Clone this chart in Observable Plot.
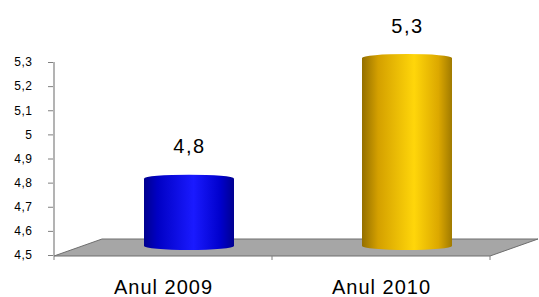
<!DOCTYPE html>
<html><head><meta charset="utf-8">
<script src="https://cdn.jsdelivr.net/npm/d3@7"></script>
<script src="https://cdn.jsdelivr.net/npm/@observablehq/plot@0.6"></script>
<style>
body{margin:0;background:#fff;}
#chart svg{font-family:"Liberation Sans",Arial,sans-serif;}
#chart g[aria-label="text"] text{letter-spacing:1.5px;}
#chart g[aria-label="x-axis tick label"] text{letter-spacing:1px;}
#chart g[aria-label="y-axis tick label"] text{letter-spacing:0.5px;}
</style>
</head><body><div id="chart"></div>
<script>
const categories = ["Anul 2009", "Anul 2010"];
const values = [4.8, 5.3];
const valueLabels = ["4,8", "5,3"];
const gradients = ["url(#gBlue)", "url(#gGold)"];
const yTicks = [4.5, 4.6, 4.7, 4.8, 4.9, 5, 5.1, 5.2, 5.3];
const yTickLabels = ["4,5", "4,6", "4,7", "4,8", "4,9", "5", "5,1", "5,2", "5,3"];

const data = categories.map((c, i) => ({cat: c, value: values[i], label: valueLabels[i], grad: gradients[i]}));

const W = 539, H = 297;
const depthX = 48, depthY = 16;
const barDx = 26, barDy = -8;

const plot = Plot.plot({
  width: W, height: H,
  marginLeft: 53, marginRight: 49, marginTop: 62, marginBottom: 42,
  style: {background: "transparent", color: "#000", fontFamily: "'Liberation Sans', Arial, sans-serif"},
  x: {domain: categories, padding: 0, label: null},
  y: {domain: [4.5, 5.3], label: null},
  color: {type: "identity"},
  marks: [
    Plot.axisY({ticks: yTicks, tickFormat: d => yTickLabels[yTicks.findIndex(t => Math.abs(t - d) < 1e-9)],
      tickSize: 5, tickPadding: 16, fontSize: 12, stroke: "#808080", label: null}),
    Plot.axisX({tickSize: 0, tickPadding: 24, fontSize: 20, label: null}),
    Plot.barY(data, {x: "cat", y1: 4.5, y2: "value", fill: "grad",
      insetLeft: 64, insetRight: 64, insetBottom: -3, rx: 46, ry: 4, dx: barDx, dy: barDy}),
    Plot.text(data, {x: "cat", y: "value", text: "label", dx: barDx, dy: barDy - 22,
      lineAnchor: "bottom", fontSize: 20, fill: "#000"})
  ]
});

const svg = d3.select(plot);
const defs = svg.insert("defs", ":first-child");
function grad(id, stops) {
  const g = defs.append("linearGradient").attr("id", id).attr("x1", "0%").attr("x2", "100%").attr("y1", "0%").attr("y2", "0%");
  stops.forEach(([o, c]) => g.append("stop").attr("offset", o).attr("stop-color", c));
}
grad("gBlue", [[0, "#00008e"], [0.15, "#0000c4"], [0.55, "#1a1aff"], [0.85, "#0000cc"], [1, "#000090"]]);
grad("gGold", [[0, "#946f00"], [0.18, "#d4a000"], [0.58, "#ffd60a"], [0.85, "#dca800"], [1, "#a07a00"]]);

const ys = plot.scale("y"), xs = plot.scale("x");
const y0 = ys.apply(4.5), yTop = ys.apply(5.3);
const xl = xs.apply(categories[0]);
const xr = xs.apply(categories[categories.length - 1]) + xs.bandwidth;
const barGroup = plot.querySelector('g[aria-label="bar"]');
const deco = d3.create("svg:g");
deco.append("polygon")
  .attr("points", [[xl, y0 + 1], [xl + depthX, y0 - depthY], [xr + depthX, y0 - depthY], [xr, y0 + 1]].map(p => p.join(",")).join(" "))
  .attr("fill", "#a6a6a6").attr("stroke", "#6e6e6e").attr("stroke-width", 1);
deco.append("line").attr("x1", xl).attr("x2", xl).attr("y1", yTop).attr("y2", y0 + 1)
  .attr("stroke", "#808080").attr("stroke-width", 1.2);
[...categories.map(c => xs.apply(c)), xr].forEach(x => {
  deco.append("line").attr("x1", x).attr("x2", x).attr("y1", y0 + 1).attr("y2", y0 + 5).attr("stroke", "#808080");
});
plot.insertBefore(deco.node(), barGroup);

document.getElementById("chart").appendChild(plot);
</script>
</body></html>
